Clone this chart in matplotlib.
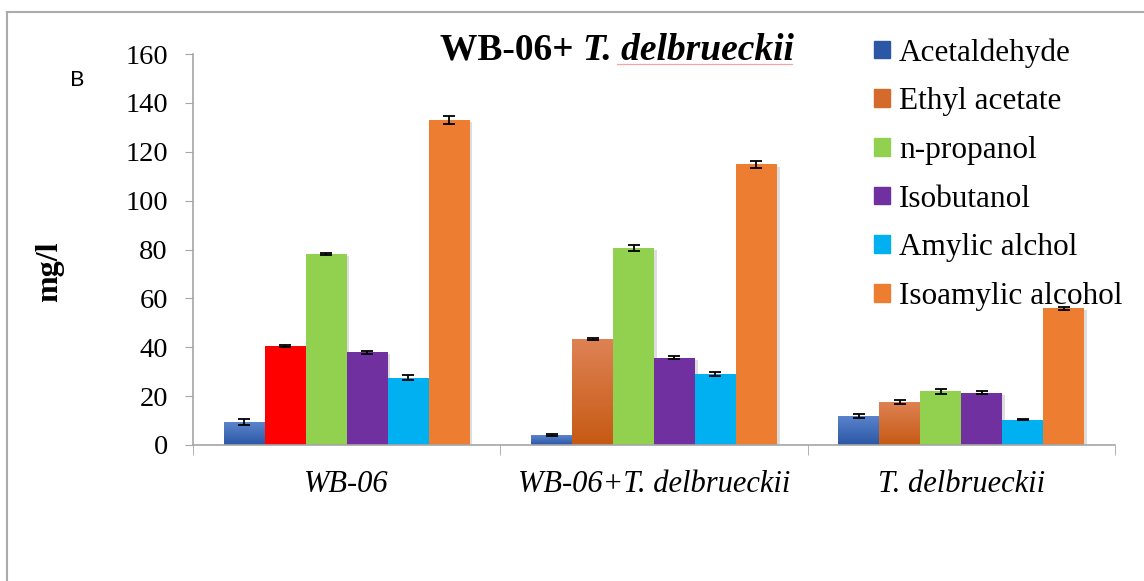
import matplotlib
matplotlib.use("Agg")
import matplotlib.pyplot as plt
import matplotlib.patheffects as pe
from matplotlib.lines import Line2D
from matplotlib.patches import Patch
import numpy as np

# data
groups = ["WB-06", "WB-06+T. delbrueckii", "T. delbrueckii"]
compounds = ["Acetaldehyde", "Ethyl acetate", "n-propanol", "Isobutanol",
             "Amylic alchol", "Isoamylic alcohol"]
acetaldehyde = [9.3, 4.0, 12.0]
ethyl_acetate = [40.5, 43.5, 17.7]
n_propanol = [78.3, 80.6, 21.9]
isobutanol = [38.0, 35.8, 21.4]
amylic = [27.6, 29.0, 10.3]
isoamylic = [133.0, 114.8, 55.9]
err_acetaldehyde = [1.2, 0.3, 0.8]
err_ethyl = [0.3, 0.4, 0.9]
err_propanol = [0.4, 1.2, 1.0]
err_isobutanol = [0.6, 0.6, 0.6]
err_amylic = [1.2, 0.7, 0.2]
err_isoamylic = [1.8, 1.3, 0.7]

values = [acetaldehyde, ethyl_acetate, n_propanol, isobutanol, amylic, isoamylic]
errors = [err_acetaldehyde, err_ethyl, err_propanol, err_isobutanol, err_amylic, err_isoamylic]
colors = ["#3B66B5", "#D2651F", "#92D050", "#7030A0", "#00B0F0", "#ED7D31"]
# top / bottom colours for the gradient filled series
gradients = {0: ("#5A84CC", "#2C57A5"), 1: ("#DE8254", "#C65A14")}

plt.rcParams['font.family'] = ['Liberation Serif', 'DejaVu Serif']

W, H = 1144, 581
fig = plt.figure(figsize=(W / 100, H / 100), dpi=100)
ax = fig.add_axes([193 / W, 1 - 445 / H, 922 / W, 391 / H])

n = len(compounds)
bw = 0.8 / n
x = np.arange(len(groups))
shadow = [pe.SimplePatchShadow(offset=(2, -1.5), shadow_rgbFace="#909090", alpha=0.3), pe.Normal()]

for i in range(n):
    pos = x - 0.4 + bw * (i + 0.5)
    bars = ax.bar(pos, values[i], bw, color=colors[i], zorder=2, label=compounds[i])
    for j, b in enumerate(bars):
        b.set_path_effects(shadow)
        if i == 1 and j == 0:
            b.set_facecolor("#FF0000")  # red bar in the WB-06 group
            continue
        if i in gradients:
            top, bot = gradients[i]
            cmap = matplotlib.colors.LinearSegmentedColormap.from_list("g", [bot, top])
            grad = np.linspace(0, 1, 50).reshape(-1, 1)
            im = ax.imshow(grad, cmap=cmap, origin="lower", aspect="auto",
                           extent=(b.get_x(), b.get_x() + bw, 0, b.get_height()), zorder=2.1)
            im.set_clip_path(b)
    ax.errorbar(pos, values[i], yerr=errors[i], fmt="none", ecolor="black",
                elinewidth=1.3, capsize=4.5, capthick=1.3, zorder=3)

ax.set_xlim(-0.5, 2.5)
ax.set_ylim(0, 160)
ax.set_yticks(np.arange(0, 161, 20))
ax.set_xticks(x)
ax.set_xticklabels(groups, fontsize=22, style="italic")
ax.set_xticks([-0.5, 0.5, 1.5, 2.5], minor=True)
ax.tick_params(axis="x", which="major", length=0, pad=18)
ax.tick_params(axis="x", which="minor", length=7, color="#A6A6A6", direction="out")
ax.tick_params(axis="y", labelsize=20.5, length=6, color="#A6A6A6", pad=12)
for s in ["top", "right"]:
    ax.spines[s].set_visible(False)
for s in ["left", "bottom"]:
    ax.spines[s].set_color("#A6A6A6")
    ax.spines[s].set_linewidth(1.2)

fig.text(50 / W, 1 - 272 / H, "mg/l", fontsize=23, fontweight="bold",
         rotation=90, ha="center", va="center")

# title: bold part then bold italic species
t1 = fig.text(440 / W, 1 - 50 / H, "WB-06+ ", fontsize=27, fontweight="bold", va="center")
t2 = ax.annotate("T. delbrueckii", xy=(1, 0), xycoords=t1, va="bottom",
                 fontsize=27, fontweight="bold", style="italic")
# faint spell-check underline under the species name
fig.add_artist(Line2D([617 / W, 792 / W], [1 - 64 / H, 1 - 64 / H], color="#F3A6A6", lw=0.9))

fig.text(77 / W, 1 - 80 / H, "B", fontsize=16, family="Lato", ha="center", va="center")

handles = [Patch(color=c) for c in colors]
handles[0].set_color(gradients[0][1])
handles[1].set_color("#D46A2C")
fig.legend(handles, compounds, loc="upper left", bbox_to_anchor=(874 / W, 1 - 38 / H),
           frameon=False, fontsize=22.5, handlelength=0.5, handleheight=0.5,
           handletextpad=0.3, labelspacing=0.63, borderpad=0, borderaxespad=0)

# outer chart frame
fig.add_artist(Line2D([7 / W, 7 / W], [0, 1 - 12 / H], color="#ABABAB", lw=1.5))
fig.add_artist(Line2D([7 / W, 1], [1 - 12 / H, 1 - 12 / H], color="#ABABAB", lw=1.5))

fig.savefig("out.png", dpi=100)
